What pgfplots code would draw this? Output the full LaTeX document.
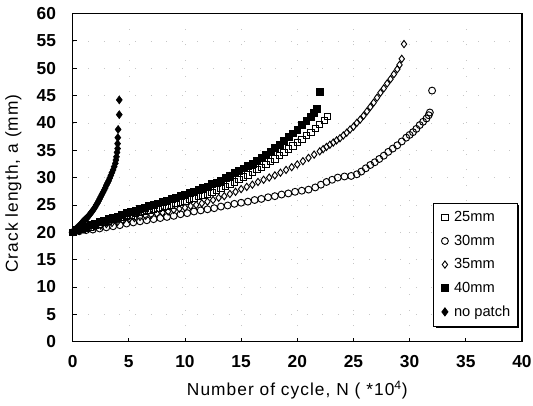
\documentclass[border=0pt]{standalone}
\usepackage{fontspec}
\setmainfont{Liberation Sans}
\newfontfamily\wideface[LetterSpace=6]{Liberation Sans}
\usepackage{pgfplots}
\pgfplotsset{compat=1.18}
\usetikzlibrary{shadows}

\begin{document}
\begin{tikzpicture}
\begin{axis}[
  at={(0,0)}, anchor=south west,
  scale only axis,
  width=337pt, height=246.2pt,
  xmin=0, xmax=40, ymin=0, ymax=60,
  xtick={0,5,...,40}, ytick={0,5,...,60},
  tick align=inside, xtick pos=bottom, ytick pos=left,
  major tick length=3pt,
  axis line style={line width=1pt},
  tick style={black, line width=0.6pt},
  ticklabel style={font=\fontsize{13}{15}\selectfont\bfseries},
  /pgf/number format/assume math mode=true,
  xticklabel shift=7pt, yticklabel shift=9pt,
  xlabel={Number of cycle, N ( *10\textsuperscript{4})},
  ylabel={Crack length, a (mm)},
  label style={font=\fontsize{13}{15}\selectfont\wideface},
  xlabel style={at={(axis description cs:0.5,-0.147)}, anchor=center},
  ylabel style={at={(axis description cs:-0.132,0.482)}, anchor=center},
  grid=major,
  grid style={gray!45, dash pattern=on 0.7pt off 11pt},
  legend style={at={(0.99,0.423)}, anchor=north east,
    draw=black, line width=0.7pt, fill=white,
    drop shadow={shadow xshift=1.3pt, shadow yshift=-1.3pt, opacity=1, fill=black},
    font=\fontsize{11}{13}\selectfont, inner xsep=3pt, inner ysep=4pt,
    row sep=4.5pt},
  legend cell align=left,
  legend image code/.code={\path (-5pt,0pt) (4.5pt,0pt); \draw[#1] plot coordinates {(0pt,0pt)};},
]

% 25mm
\addplot[only marks, mark=square, mark size=2.4pt, mark options={line width=0.7pt, fill=none, draw=black}] coordinates {
(0.0,20.0) (0.4,20.3) (0.8,20.5) (1.2,20.8) (1.6,21.0) (2.0,21.3) (2.4,21.5) (2.8,21.8)
(3.2,22.0) (3.6,22.3) (4.0,22.5) (4.4,22.7) (4.8,22.9) (5.2,23.2) (5.6,23.4) (6.0,23.6)
(6.4,23.8) (6.8,24.0) (7.2,24.2) (7.6,24.4) (8.0,24.6) (8.4,24.8) (8.8,25.0) (9.2,25.3)
(9.6,25.5) (10.0,25.7) (10.4,26.0) (10.8,26.2) (11.2,26.5) (11.6,26.7) (12.0,27.0) (12.4,27.3)
(12.8,27.7) (13.2,28.0) (13.6,28.4) (14.0,28.8) (14.4,29.2) (14.8,29.6) (15.2,30.1) (15.6,30.5)
(16.0,31.0) (16.4,31.5) (16.8,31.9) (17.2,32.4) (17.6,32.9) (18.0,33.4) (18.4,34.0) (18.8,34.6)
(19.2,35.2) (19.6,35.8) (20.0,36.4) (20.4,37.0) (20.8,37.7) (21.2,38.3) (21.6,39.0) (22.0,39.7)
(22.4,40.4) (22.7,41.2)
};
\addlegendentry{25mm}

% 30mm
\addplot[only marks, mark=o, mark size=2.6pt, mark options={line width=0.7pt, draw=black}] coordinates {
(0.0,20.0) (0.6,20.2) (1.2,20.4) (1.8,20.5) (2.4,20.7) (3.0,20.9) (3.6,21.1) (4.2,21.3)
(4.8,21.6) (5.4,21.8) (6.0,22.0) (6.6,22.2) (7.2,22.4) (7.8,22.6) (8.4,22.8) (9.0,23.0)
(9.6,23.3) (10.2,23.5) (10.8,23.8) (11.4,24.0) (12.0,24.2) (12.6,24.4) (13.2,24.7) (13.8,24.9)
(14.4,25.2) (15.0,25.4) (15.6,25.6) (16.2,25.9) (16.8,26.1) (17.4,26.4) (18.0,26.6) (18.6,26.9)
(19.2,27.1) (19.8,27.4) (20.4,27.6) (21.0,27.8) (21.6,28.2) (22.1,28.7) (22.6,29.2) (23.1,29.6)
(23.6,30.0) (24.2,30.2) (24.8,30.3) (25.3,30.6) (25.7,31.1) (26.1,31.7) (26.5,32.3) (26.9,32.8)
(27.3,33.4) (27.7,34.0) (28.1,34.7) (28.5,35.3) (28.9,35.9) (29.3,36.6) (29.7,37.3) (30.0,37.8)
(30.3,38.3) (30.6,38.9) (30.9,39.6) (31.2,40.2) (31.5,40.8) (31.7,41.4) (31.8,41.9) (32.0,45.9)
};
\addlegendentry{30mm}

% 35mm
\addplot[only marks, mark=diamond, mark size=2.7pt, mark options={line width=0.7pt, fill=none, draw=black}] coordinates {
(0.0,20.0) (0.5,20.3) (1.0,20.5) (1.5,20.8) (2.0,21.0) (2.5,21.2) (3.0,21.5) (3.5,21.7)
(4.0,21.9) (4.5,22.1) (5.0,22.4) (5.5,22.6) (6.0,22.8) (6.5,23.0) (7.0,23.2) (7.5,23.4)
(8.0,23.6) (8.5,23.8) (9.0,24.1) (9.5,24.3) (10.0,24.5) (10.5,24.8) (11.0,25.0) (11.5,25.3)
(12.0,25.6) (12.5,25.9) (13.0,26.3) (13.5,26.6) (14.0,27.0) (14.5,27.4) (15.0,27.9) (15.5,28.3)
(16.0,28.7) (16.5,29.2) (17.0,29.6) (17.5,30.0) (18.0,30.4) (18.5,30.9) (19.0,31.4) (19.5,31.9)
(20.0,32.4) (20.5,33.0) (21.0,33.6) (21.5,34.2) (22.0,34.8) (22.3,35.2) (22.6,35.6) (22.9,36.0)
(23.2,36.4) (23.5,36.8) (23.8,37.2) (24.1,37.7) (24.4,38.2) (24.7,38.8) (25.0,39.3) (25.3,40.0)
(25.6,40.6) (25.9,41.3) (26.2,42.1) (26.5,42.9) (26.8,43.7) (27.1,44.6) (27.4,45.5) (27.7,46.3)
(28.0,47.2) (28.3,48.0) (28.6,48.9) (28.9,49.8) (29.1,50.6) (29.3,51.7) (29.5,54.4)
};
\addlegendentry{35mm}

% 40mm
\addplot[only marks, mark=square*, mark size=2.6pt, mark options={draw=black, fill=black}] coordinates {
(0.0,20.0) (0.4,20.4) (0.8,20.7) (1.2,21.0) (1.6,21.3) (2.0,21.6) (2.4,21.9) (2.8,22.2)
(3.2,22.4) (3.6,22.7) (4.0,22.9) (4.4,23.2) (4.8,23.5) (5.2,23.7) (5.6,24.0) (6.0,24.3)
(6.4,24.5) (6.8,24.8) (7.2,25.0) (7.6,25.3) (8.0,25.5) (8.4,25.8) (8.8,26.1) (9.2,26.3)
(9.6,26.6) (10.0,26.9) (10.4,27.2) (10.8,27.5) (11.2,27.8) (11.6,28.1) (12.0,28.4) (12.4,28.8)
(12.8,29.1) (13.2,29.5) (13.6,30.0) (14.0,30.4) (14.4,30.8) (14.8,31.3) (15.2,31.7) (15.6,32.2)
(16.0,32.6) (16.4,33.1) (16.8,33.6) (17.2,34.2) (17.6,34.8) (18.0,35.4) (18.4,36.0) (18.8,36.7)
(19.2,37.4) (19.6,38.1) (20.0,38.8) (20.4,39.6) (20.8,40.4) (21.2,41.2) (21.5,41.9) (21.7,42.5)
(22.0,45.7)
};
\addlegendentry{40mm}

% no patch
\addplot[only marks, mark=diamond*, mark size=3pt, mark options={draw=black, fill=black}] coordinates {
(0.0,20.0) (0.1,20.2) (0.2,20.4) (0.3,20.6) (0.4,20.8) (0.5,21.0) (0.6,21.2) (0.7,21.4)
(0.8,21.7) (0.9,21.9) (1.0,22.1) (1.1,22.3) (1.2,22.5) (1.3,22.7) (1.4,22.9) (1.5,23.2)
(1.6,23.5) (1.7,23.7) (1.8,24.0) (1.9,24.3) (2.0,24.6) (2.1,25.0) (2.2,25.3) (2.3,25.7)
(2.4,26.1) (2.5,26.5) (2.6,26.9) (2.7,27.3) (2.8,27.7) (2.9,28.1) (3.0,28.6) (3.1,29.0)
(3.2,29.4) (3.3,29.9) (3.4,30.4) (3.5,30.9) (3.6,31.4) (3.7,32.0) (3.8,32.6) (3.85,33.2)
(3.9,33.8) (3.95,34.6) (4.0,35.3) (4.0,36.2) (4.02,37.3) (4.05,38.8) (4.15,41.5) (4.15,44.2)
};
\addlegendentry{no patch}

\end{axis}
\pgfresetboundingbox
\path[use as bounding box] (-54.5pt,-48.2pt) rectangle (345.3pt,256.3pt);
\end{tikzpicture}
\end{document}
